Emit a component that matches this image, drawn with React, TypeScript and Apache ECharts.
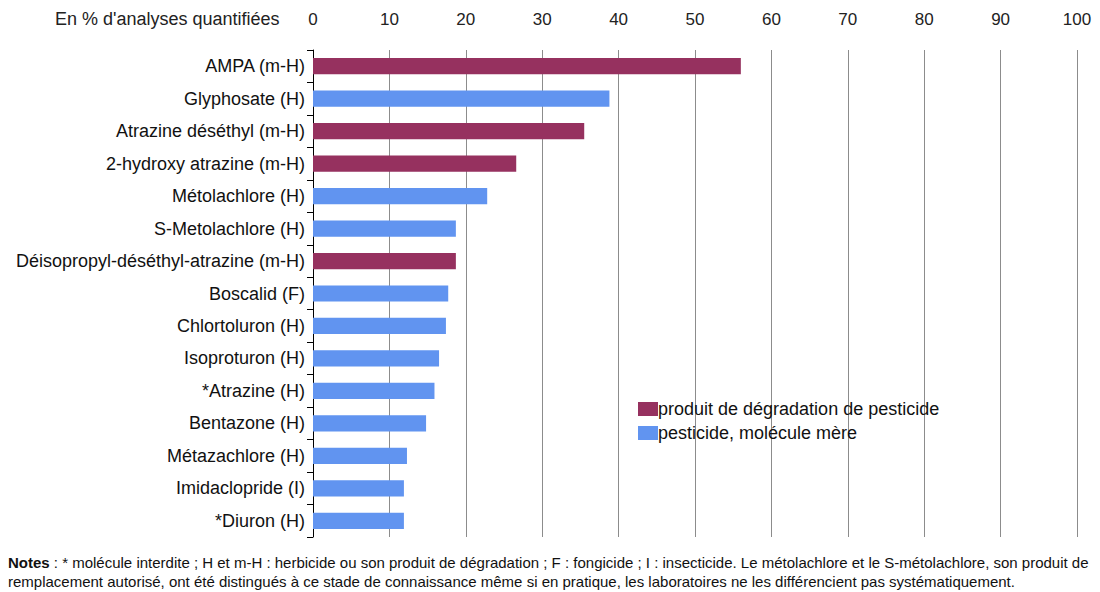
import React, { useEffect, useRef } from "react";
import * as echarts from "echarts";

const categories = [
  "AMPA (m-H)",
  "Glyphosate (H)",
  "Atrazine déséthyl (m-H)",
  "2-hydroxy atrazine (m-H)",
  "Métolachlore (H)",
  "S-Metolachlore (H)",
  "Déisopropyl-déséthyl-atrazine (m-H)",
  "Boscalid (F)",
  "Chlortoluron (H)",
  "Isoproturon (H)",
  "*Atrazine (H)",
  "Bentazone (H)",
  "Métazachlore (H)",
  "Imidaclopride (I)",
  "*Diuron (H)",
];
const values = [56, 38.8, 35.5, 26.6, 22.8, 18.7, 18.7, 17.7, 17.4, 16.5, 15.9, 14.8, 12.3, 11.9, 11.9];
const isDegradation = [true, false, true, true, false, false, true, false, false, false, false, false, false, false, false];
const seriesNames = ["produit de dégradation de pesticide", "pesticide, molécule mère"];
const axisTitle = "En % d'analyses quantifiées";
const noteLine1 =
  " : * molécule interdite ; H et m-H : herbicide ou son produit de dégradation ; F : fongicide ; I : insecticide. Le métolachlore et le S-métolachlore, son produit de";
const noteLine2 =
  "remplacement autorisé, ont été distingués à ce stade de connaissance même si en pratique, les laboratoires ne les différencient pas systématiquement.";

const degradationData = values.map((v, i) => (isDegradation[i] ? v : null));
const parentData = values.map((v, i) => (isDegradation[i] ? null : v));

export default function App() {
  const ref = useRef<HTMLDivElement>(null);
  useEffect(() => {
    if (!ref.current) return;
    const chart = echarts.init(ref.current, null, { renderer: "svg" });
    const font = "Arial, 'Liberation Sans', sans-serif";
    chart.setOption({
      animation: false,
      textStyle: { fontFamily: font },
      grid: { left: 313, right: 23, top: 50, bottom: 55, containLabel: false },
      xAxis: {
        type: "value",
        position: "top",
        min: 0,
        max: 100,
        interval: 10,
        axisLine: { show: false },
        axisTick: { show: false },
        axisLabel: { color: "#222", fontSize: 17, margin: 22, fontFamily: font },
        splitLine: { show: true, lineStyle: { color: "#8c8c8c", width: 1 } },
      },
      yAxis: {
        type: "category",
        data: categories,
        inverse: true,
        axisLine: { show: true, lineStyle: { color: "#000", width: 1 } },
        axisTick: { show: true, length: 6, lineStyle: { color: "#000" } },
        axisLabel: { color: "#111", fontSize: 18, margin: 8, fontFamily: font },
        splitLine: { show: false },
      },
      legend: {
        orient: "vertical",
        left: 633,
        top: 395,
        itemWidth: 20,
        itemHeight: 14,
        itemGap: 6,
        icon: "rect",
        textStyle: { fontSize: 18, color: "#111", fontFamily: font, padding: [0, 0, 0, -5] },
        data: seriesNames,
      },
      series: [
        {
          name: seriesNames[0],
          type: "bar",
          stack: "all",
          data: degradationData,
          barWidth: "50%",
          itemStyle: { color: "#96315F" },
        },
        {
          name: seriesNames[1],
          type: "bar",
          stack: "all",
          data: parentData,
          barWidth: "50%",
          itemStyle: { color: "#6194F0" },
        },
      ],
      graphic: [
        {
          type: "text",
          left: 55,
          top: 10,
          style: { text: axisTitle, fontSize: 18, fill: "#222", fontFamily: font },
        },
        {
          type: "text",
          left: 8,
          top: 553,
          style: {
            text: "{b|Notes}" + noteLine1 + "\n" + noteLine2,
            fontSize: 15,
            lineHeight: 19,
            fill: "#111",
            fontFamily: font,
            rich: { b: { fontWeight: "bold", fontSize: 15, lineHeight: 19, fontFamily: font, fill: "#111" } },
          },
        },
      ],
    });
    return () => chart.dispose();
  }, []);
  return <div ref={ref} style={{ width: 1100, height: 592, position: "absolute", left: 0, top: 0 }} />;
}
